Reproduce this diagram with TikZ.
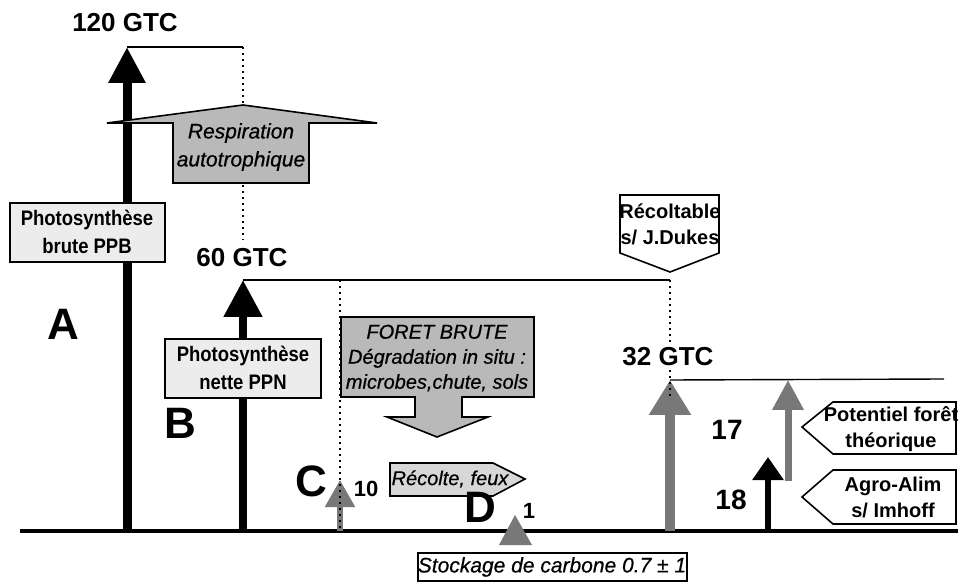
\documentclass[tikz,border=0pt]{standalone}
\usepackage{fontspec}
\setmainfont{Liberation Sans}
\newfontfamily\narrowsans{Liberation Sans}[FakeStretch=0.88]
\newfontfamily\heavyital{Liberation Sans}[ItalicFeatures={FakeBold=0.6}]
\usetikzlibrary{arrows.meta}
\definecolor{darkgrey}{RGB}{120,120,120}
\definecolor{midgrey}{RGB}{185,185,185}
\definecolor{lightgrey}{RGB}{215,215,215}
\definecolor{palegrey}{RGB}{236,236,236}
\begin{document}
\begin{tikzpicture}[x=0.5pt,y=-0.5pt,
      thinline/.style={line width=0.7pt},
      dotline/.style={line width=1pt, dotted},
      flow/.style n args={4}{line width=#1, draw=#2, -{Triangle[length=#3,width=#4]}},
      panel/.style={draw, line width=0.8pt},
      gtc/.style={font=\bfseries\fontsize{13}{15}\selectfont},
      letter/.style={font=\bfseries\fontsize{22}{24}\selectfont},
      num/.style={font=\bfseries\fontsize{14}{16}\selectfont},
      boxtext/.style={align=center, inner sep=0pt, font=\bfseries\fontsize{10}{13}\selectfont},
      slanted/.style={align=center, inner sep=0pt, font=\heavyital\itshape\fontsize{10}{12.5}\selectfont}
    ]
    \useasboundingbox (0,0) rectangle (958,582);

    \coordinate (tipA) at (127,47);
    \coordinate (footA) at (127,531);
    \coordinate (tipB) at (243,280);
    \coordinate (footB) at (243,531);
    \coordinate (tipC) at (340,480);
    \coordinate (footC) at (340,531);
    \coordinate (tipR) at (670,380);
    \coordinate (footR) at (670,531);
    \coordinate (tipP) at (788,380);
    \coordinate (footP) at (788,481);
    \coordinate (tipG) at (768,457);
    \coordinate (footG) at (768,531);
    \coordinate (left) at (20,531);
    \coordinate (right) at (958,531);

    \draw[line width=2pt] (left) -- (right);

    \draw[thinline] (tipA) -- (243,47);
    \draw[dotline] (243,47) -- (243,240);
    \draw[thinline] (tipB) -- (670,280);
    \draw[thinline] (tipR) -- (944,379);

    \draw[flow={4.5pt}{black}{18pt}{17.5pt}] (footA) -- (tipA);
    \draw[flow={4pt}{black}{18.5pt}{18.5pt}] (footB) -- (tipB);
    \draw[flow={2.6pt}{darkgrey}{13.5pt}{14.5pt}] (footC) -- (tipC);
    \draw[flow={5pt}{darkgrey}{17.5pt}{20pt}] (footR) -- (tipR);
    \draw[flow={3.5pt}{darkgrey}{15pt}{15pt}] (footP) -- (tipP);
    \draw[flow={3pt}{black}{11.5pt}{15pt}] (footG) -- (tipG);

    \draw[fill=midgrey, line width=0.8pt] (243,105) -- (377,123) -- (309,123) -- (309,183)
      -- (173,183) -- (173,123) -- (107,123) -- cycle;
    \node[slanted, font=\heavyital\itshape\fontsize{10.5}{14}\selectfont] (resp) at (241,147) {Respiration\\autotrophique};

    \draw[fill=midgrey, line width=0.8pt] (341,317) -- (534,317) -- (534,397) -- (462,397)
      -- (462,417) -- (488,417) -- (437,437) -- (387,417) -- (415,417) -- (415,397)
      -- (341,397) -- cycle;
    \node[slanted] (foret) at (437,358) {FORET BRUTE\\Dégradation in situ :\\microbes,chute, sols};

    \draw[fill=lightgrey, line width=0.8pt] (390,463) -- (493,463) -- (525,479) -- (493,496)
      -- (390,496) -- cycle;
    \node[slanted] (recolte) at (450,479) {Récolte, feux};

    \draw[fill=white, line width=0.8pt] (620,195) -- (719,195) -- (719,253) -- (670,272)
      -- (620,253) -- cycle;
    \node[boxtext] (dukes) at (670,224) {Récoltable\\s/ J.Dukes};

    \draw[fill=white, line width=0.8pt] (802,427) -- (833,402) -- (956,402) -- (956,454)
      -- (833,454) -- cycle;
    \node[boxtext] (potentiel) at (891,429) {Potentiel forêt\\théorique};

    \draw[fill=white, line width=0.8pt] (802,497) -- (833,470) -- (956,470) -- (956,524)
      -- (833,524) -- cycle;
    \node[boxtext] (agro) at (893,497) {Agro-Alim\\s/ Imhoff};

    \draw[panel, fill=palegrey] (10,203) rectangle (165,262);
    \node[boxtext, font=\narrowsans\bfseries\fontsize{10.5}{14}\selectfont] (ppb) at (87,232) {Photosynthèse\\brute PPB};
    \draw[panel, fill=palegrey] (165,339) rectangle (321,398);
    \node[boxtext, font=\narrowsans\bfseries\fontsize{10.5}{14}\selectfont] (ppn) at (243,368) {Photosynthèse\\nette PPN};

    \draw[dotline] (340,280) -- (340,531);
    \draw[dotline] (670,280) -- (670,398);

    \node[gtc] (g120) at (125,23) {120 GTC};
    \node[gtc] (g60) at (242,258) {60 GTC};
    \node[gtc, fill=white, inner sep=1pt] (g32) at (668,357) {32 GTC};

    \node[letter] (la) at (63,324) {A};
    \node[letter] (lb) at (180,423) {B};
    \node[letter] (lc) at (311,481) {C};
    \node[letter] (ld) at (480,507) {D};

    \node[font=\bfseries\fontsize{11}{13}\selectfont] (n10) at (366,489) {10};
    \node[font=\bfseries\fontsize{11}{13}\selectfont] (n1) at (529,511) {1};
    \node[num] (n17) at (727,430) {17};
    \node[num] (n18) at (731,500) {18};

    \fill[darkgrey] (515,515) -- (532,545) -- (499,545) -- cycle;

    \draw[panel] (418,553) rectangle (687,581);
    \node[slanted, font=\heavyital\itshape\fontsize{10.5}{12}\selectfont] (stock) at (552,567) {Stockage de carbone 0.7 ± 1};
  \end{tikzpicture}
\end{document}
